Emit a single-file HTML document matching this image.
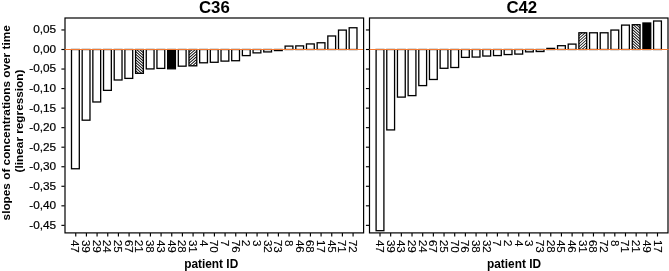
<!DOCTYPE html>
<html><head><meta charset="utf-8"><title>chart</title>
<style>
html,body{margin:0;padding:0;background:#fff;}
svg{display:block;font-family:"Liberation Sans",Arial,sans-serif;}
.t{font-size:16.8px;font-weight:bold;text-anchor:middle;fill:#000;}
.yl{font-size:11.8px;text-anchor:end;fill:#000;stroke:#000;stroke-width:0.22px;}
.xl{font-size:11.6px;fill:#000;stroke:#000;stroke-width:0.12px;}
.al{font-size:11.87px;font-weight:bold;text-anchor:middle;fill:#000;}
</style></head><body>
<svg width="669" height="271" viewBox="0 0 669 271">
<rect width="669" height="271" fill="#fff"/>

<text class="yl" x="56.1" y="33.36">0,05</text>
<text class="yl" x="56.1" y="52.90">0,00</text>
<text class="yl" x="56.1" y="72.44">-0,05</text>
<text class="yl" x="56.1" y="91.98">-0,10</text>
<text class="yl" x="56.1" y="111.52">-0,15</text>
<text class="yl" x="56.1" y="131.06">-0,20</text>
<text class="yl" x="56.1" y="150.60">-0,25</text>
<text class="yl" x="56.1" y="170.14">-0,30</text>
<text class="yl" x="56.1" y="189.68">-0,35</text>
<text class="yl" x="56.1" y="209.22">-0,40</text>
<text class="yl" x="56.1" y="228.76">-0,45</text>
<text class="al" style="font-size:11.79px" transform="translate(9.7,122.85) rotate(-90)">slopes of concentrations over time</text>
<text class="al" style="font-size:11.79px" transform="translate(22.7,121.0) rotate(-90)">(linear regression)</text>
<text class="t" x="214.4" y="12.7">C36</text>
<rect x="71.50" y="49.50" width="7.8" height="119.25" fill="#fff" stroke="#000" stroke-width="1.3"/>
<line x1="75.75" y1="232.9" x2="75.75" y2="236.5" stroke="#000" stroke-width="1.15"/>
<text class="xl" transform="translate(71.40,239.9) rotate(90)">47</text>
<rect x="82.18" y="49.50" width="7.8" height="70.69" fill="#fff" stroke="#000" stroke-width="1.3"/>
<line x1="86.42" y1="232.9" x2="86.42" y2="236.5" stroke="#000" stroke-width="1.15"/>
<text class="xl" transform="translate(82.08,239.9) rotate(90)">39</text>
<rect x="92.86" y="49.50" width="7.8" height="52.48" fill="#fff" stroke="#000" stroke-width="1.3"/>
<line x1="97.08" y1="232.9" x2="97.08" y2="236.5" stroke="#000" stroke-width="1.15"/>
<text class="xl" transform="translate(92.76,239.9) rotate(90)">29</text>
<rect x="103.54" y="49.50" width="7.8" height="40.86" fill="#fff" stroke="#000" stroke-width="1.3"/>
<line x1="107.75" y1="232.9" x2="107.75" y2="236.5" stroke="#000" stroke-width="1.15"/>
<text class="xl" transform="translate(103.44,239.9) rotate(90)">24</text>
<rect x="114.22" y="49.50" width="7.8" height="30.49" fill="#fff" stroke="#000" stroke-width="1.3"/>
<line x1="118.42" y1="232.9" x2="118.42" y2="236.5" stroke="#000" stroke-width="1.15"/>
<text class="xl" transform="translate(114.12,239.9) rotate(90)">25</text>
<rect x="124.90" y="49.50" width="7.8" height="28.89" fill="#fff" stroke="#000" stroke-width="1.3"/>
<line x1="129.08" y1="232.9" x2="129.08" y2="236.5" stroke="#000" stroke-width="1.15"/>
<text class="xl" transform="translate(124.80,239.9) rotate(90)">67</text>
<clipPath id="c33"><rect x="135.58" y="49.50" width="7.8" height="23.82"/></clipPath>
<rect x="135.58" y="49.50" width="7.8" height="23.82" fill="#000"/>
<path d="M134.58 27.15L144.38 35.77M134.58 29.90L144.38 38.52M134.58 32.65L144.38 41.27M134.58 35.40L144.38 44.02M134.58 38.15L144.38 46.77M134.58 40.90L144.38 49.52M134.58 43.65L144.38 52.27M134.58 46.40L144.38 55.02M134.58 49.15L144.38 57.77M134.58 51.90L144.38 60.52M134.58 54.65L144.38 63.27M134.58 57.40L144.38 66.02M134.58 60.15L144.38 68.77M134.58 62.90L144.38 71.52M134.58 65.65L144.38 74.27M134.58 68.40L144.38 77.02M134.58 71.15L144.38 79.77M134.58 73.90L144.38 82.52M134.58 76.65L144.38 85.27M134.58 79.40L144.38 88.02M134.58 82.15L144.38 90.77M134.58 84.90L144.38 93.52M134.58 87.65L144.38 96.27M134.58 90.40L144.38 99.02M134.58 93.15L144.38 101.77" stroke="#fff" stroke-width="1.2" fill="none" clip-path="url(#c33)"/>
<rect x="135.58" y="49.50" width="7.8" height="23.82" fill="none" stroke="#000" stroke-width="1.3"/>
<line x1="139.75" y1="232.9" x2="139.75" y2="236.5" stroke="#000" stroke-width="1.15"/>
<text class="xl" transform="translate(135.48,239.9) rotate(90)">21</text>
<rect x="146.26" y="49.50" width="7.8" height="19.41" fill="#fff" stroke="#000" stroke-width="1.3"/>
<line x1="150.42" y1="232.9" x2="150.42" y2="236.5" stroke="#000" stroke-width="1.15"/>
<text class="xl" transform="translate(146.16,239.9) rotate(90)">38</text>
<rect x="156.94" y="49.50" width="7.8" height="18.90" fill="#fff" stroke="#000" stroke-width="1.3"/>
<line x1="161.08" y1="232.9" x2="161.08" y2="236.5" stroke="#000" stroke-width="1.15"/>
<text class="xl" transform="translate(156.84,239.9) rotate(90)">43</text>
<rect x="167.62" y="49.50" width="7.8" height="19.29" fill="#000" stroke="#000" stroke-width="1.3"/>
<line x1="171.75" y1="232.9" x2="171.75" y2="236.5" stroke="#000" stroke-width="1.15"/>
<text class="xl" transform="translate(167.52,239.9) rotate(90)">49</text>
<rect x="178.30" y="49.50" width="7.8" height="16.68" fill="#fff" stroke="#000" stroke-width="1.3"/>
<line x1="182.42" y1="232.9" x2="182.42" y2="236.5" stroke="#000" stroke-width="1.15"/>
<text class="xl" transform="translate(178.20,239.9) rotate(90)">28</text>
<clipPath id="c51"><rect x="188.98" y="49.50" width="7.8" height="16.33"/></clipPath>
<rect x="188.98" y="49.50" width="7.8" height="16.33" fill="#000"/>
<path d="M187.98 27.15L197.78 18.53M187.98 29.90L197.78 21.28M187.98 32.65L197.78 24.03M187.98 35.40L197.78 26.78M187.98 38.15L197.78 29.53M187.98 40.90L197.78 32.28M187.98 43.65L197.78 35.03M187.98 46.40L197.78 37.78M187.98 49.15L197.78 40.53M187.98 51.90L197.78 43.28M187.98 54.65L197.78 46.03M187.98 57.40L197.78 48.78M187.98 60.15L197.78 51.53M187.98 62.90L197.78 54.28M187.98 65.65L197.78 57.03M187.98 68.40L197.78 59.78M187.98 71.15L197.78 62.53M187.98 73.90L197.78 65.28M187.98 76.65L197.78 68.03M187.98 79.40L197.78 70.78M187.98 82.15L197.78 73.53M187.98 84.90L197.78 76.28M187.98 87.65L197.78 79.03" stroke="#fff" stroke-width="1.2" fill="none" clip-path="url(#c51)"/>
<rect x="188.98" y="49.50" width="7.8" height="16.33" fill="none" stroke="#000" stroke-width="1.3"/>
<line x1="193.08" y1="232.9" x2="193.08" y2="236.5" stroke="#000" stroke-width="1.15"/>
<text class="xl" transform="translate(188.88,239.9) rotate(90)">31</text>
<rect x="199.66" y="49.50" width="7.8" height="13.29" fill="#fff" stroke="#000" stroke-width="1.3"/>
<line x1="203.75" y1="232.9" x2="203.75" y2="236.5" stroke="#000" stroke-width="1.15"/>
<text class="xl" transform="translate(199.56,239.9) rotate(90)">4</text>
<rect x="210.34" y="49.50" width="7.8" height="12.78" fill="#fff" stroke="#000" stroke-width="1.3"/>
<line x1="214.42" y1="232.9" x2="214.42" y2="236.5" stroke="#000" stroke-width="1.15"/>
<text class="xl" transform="translate(210.24,239.9) rotate(90)">70</text>
<rect x="221.02" y="49.50" width="7.8" height="11.61" fill="#fff" stroke="#000" stroke-width="1.3"/>
<line x1="225.08" y1="232.9" x2="225.08" y2="236.5" stroke="#000" stroke-width="1.15"/>
<text class="xl" transform="translate(220.92,239.9) rotate(90)">7</text>
<rect x="231.70" y="49.50" width="7.8" height="11.22" fill="#fff" stroke="#000" stroke-width="1.3"/>
<line x1="235.75" y1="232.9" x2="235.75" y2="236.5" stroke="#000" stroke-width="1.15"/>
<text class="xl" transform="translate(231.60,239.9) rotate(90)">76</text>
<rect x="242.38" y="49.50" width="7.8" height="6.11" fill="#fff" stroke="#000" stroke-width="1.3"/>
<line x1="246.41" y1="232.9" x2="246.41" y2="236.5" stroke="#000" stroke-width="1.15"/>
<text class="xl" transform="translate(242.28,239.9) rotate(90)">2</text>
<rect x="253.06" y="49.50" width="7.8" height="3.38" fill="#fff" stroke="#000" stroke-width="1.3"/>
<line x1="257.08" y1="232.9" x2="257.08" y2="236.5" stroke="#000" stroke-width="1.15"/>
<text class="xl" transform="translate(252.96,239.9) rotate(90)">3</text>
<rect x="263.74" y="49.50" width="7.8" height="2.41" fill="#fff" stroke="#000" stroke-width="1.3"/>
<line x1="267.75" y1="232.9" x2="267.75" y2="236.5" stroke="#000" stroke-width="1.15"/>
<text class="xl" transform="translate(263.64,239.9) rotate(90)">32</text>
<rect x="274.42" y="49.50" width="7.8" height="1.08" fill="#fff" stroke="#000" stroke-width="1.3"/>
<line x1="278.41" y1="232.9" x2="278.41" y2="236.5" stroke="#000" stroke-width="1.15"/>
<text class="xl" transform="translate(274.32,239.9) rotate(90)">73</text>
<rect x="285.10" y="46.09" width="7.8" height="3.41" fill="#fff" stroke="#000" stroke-width="1.3"/>
<line x1="289.08" y1="232.9" x2="289.08" y2="236.5" stroke="#000" stroke-width="1.15"/>
<text class="xl" transform="translate(285.00,239.9) rotate(90)">8</text>
<rect x="295.78" y="45.89" width="7.8" height="3.61" fill="#fff" stroke="#000" stroke-width="1.3"/>
<line x1="299.75" y1="232.9" x2="299.75" y2="236.5" stroke="#000" stroke-width="1.15"/>
<text class="xl" transform="translate(295.68,239.9) rotate(90)">46</text>
<rect x="306.46" y="43.94" width="7.8" height="5.56" fill="#fff" stroke="#000" stroke-width="1.3"/>
<line x1="310.41" y1="232.9" x2="310.41" y2="236.5" stroke="#000" stroke-width="1.15"/>
<text class="xl" transform="translate(306.36,239.9) rotate(90)">68</text>
<rect x="317.14" y="42.77" width="7.8" height="6.73" fill="#fff" stroke="#000" stroke-width="1.3"/>
<line x1="321.08" y1="232.9" x2="321.08" y2="236.5" stroke="#000" stroke-width="1.15"/>
<text class="xl" transform="translate(317.04,239.9) rotate(90)">17</text>
<rect x="327.82" y="35.98" width="7.8" height="13.52" fill="#fff" stroke="#000" stroke-width="1.3"/>
<line x1="331.75" y1="232.9" x2="331.75" y2="236.5" stroke="#000" stroke-width="1.15"/>
<text class="xl" transform="translate(327.72,239.9) rotate(90)">45</text>
<rect x="338.50" y="30.09" width="7.8" height="19.41" fill="#fff" stroke="#000" stroke-width="1.3"/>
<line x1="342.41" y1="232.9" x2="342.41" y2="236.5" stroke="#000" stroke-width="1.15"/>
<text class="xl" transform="translate(338.40,239.9) rotate(90)">71</text>
<rect x="349.18" y="27.76" width="7.8" height="21.74" fill="#fff" stroke="#000" stroke-width="1.3"/>
<line x1="353.08" y1="232.9" x2="353.08" y2="236.5" stroke="#000" stroke-width="1.15"/>
<text class="xl" transform="translate(349.08,239.9) rotate(90)">72</text>
<rect x="65.0" y="18.0" width="298.60" height="214.90" fill="none" stroke="#000" stroke-width="1.2"/>
<line x1="64.0" y1="49.5" x2="363.1" y2="49.5" stroke="#f27a34" stroke-width="1.1"/>
<line x1="61.4" y1="29.96" x2="64.6" y2="29.96" stroke="#000" stroke-width="1.15"/>
<line x1="61.4" y1="49.50" x2="64.6" y2="49.50" stroke="#000" stroke-width="1.15"/>
<line x1="61.4" y1="69.04" x2="64.6" y2="69.04" stroke="#000" stroke-width="1.15"/>
<line x1="61.4" y1="88.58" x2="64.6" y2="88.58" stroke="#000" stroke-width="1.15"/>
<line x1="61.4" y1="108.12" x2="64.6" y2="108.12" stroke="#000" stroke-width="1.15"/>
<line x1="61.4" y1="127.66" x2="64.6" y2="127.66" stroke="#000" stroke-width="1.15"/>
<line x1="61.4" y1="147.20" x2="64.6" y2="147.20" stroke="#000" stroke-width="1.15"/>
<line x1="61.4" y1="166.74" x2="64.6" y2="166.74" stroke="#000" stroke-width="1.15"/>
<line x1="61.4" y1="186.28" x2="64.6" y2="186.28" stroke="#000" stroke-width="1.15"/>
<line x1="61.4" y1="205.82" x2="64.6" y2="205.82" stroke="#000" stroke-width="1.15"/>
<line x1="61.4" y1="225.36" x2="64.6" y2="225.36" stroke="#000" stroke-width="1.15"/>
<text class="al" x="211.2" y="268">patient ID</text>
<text class="t" x="521.8" y="12.7">C42</text>
<rect x="376.10" y="49.50" width="7.8" height="181.18" fill="#fff" stroke="#000" stroke-width="1.3"/>
<line x1="380.00" y1="232.9" x2="380.00" y2="236.5" stroke="#000" stroke-width="1.15"/>
<text class="xl" transform="translate(376.00,239.9) rotate(90)">47</text>
<rect x="386.77" y="49.50" width="7.8" height="80.41" fill="#fff" stroke="#000" stroke-width="1.3"/>
<line x1="390.67" y1="232.9" x2="390.67" y2="236.5" stroke="#000" stroke-width="1.15"/>
<text class="xl" transform="translate(386.67,239.9) rotate(90)">39</text>
<rect x="397.45" y="49.50" width="7.8" height="47.61" fill="#fff" stroke="#000" stroke-width="1.3"/>
<line x1="401.35" y1="232.9" x2="401.35" y2="236.5" stroke="#000" stroke-width="1.15"/>
<text class="xl" transform="translate(397.35,239.9) rotate(90)">43</text>
<rect x="408.12" y="49.50" width="7.8" height="46.12" fill="#fff" stroke="#000" stroke-width="1.3"/>
<line x1="412.02" y1="232.9" x2="412.02" y2="236.5" stroke="#000" stroke-width="1.15"/>
<text class="xl" transform="translate(408.02,239.9) rotate(90)">29</text>
<rect x="418.79" y="49.50" width="7.8" height="36.10" fill="#fff" stroke="#000" stroke-width="1.3"/>
<line x1="422.69" y1="232.9" x2="422.69" y2="236.5" stroke="#000" stroke-width="1.15"/>
<text class="xl" transform="translate(418.69,239.9) rotate(90)">24</text>
<rect x="429.47" y="49.50" width="7.8" height="29.98" fill="#fff" stroke="#000" stroke-width="1.3"/>
<line x1="433.37" y1="232.9" x2="433.37" y2="236.5" stroke="#000" stroke-width="1.15"/>
<text class="xl" transform="translate(429.37,239.9) rotate(90)">67</text>
<rect x="440.14" y="49.50" width="7.8" height="18.79" fill="#fff" stroke="#000" stroke-width="1.3"/>
<line x1="444.04" y1="232.9" x2="444.04" y2="236.5" stroke="#000" stroke-width="1.15"/>
<text class="xl" transform="translate(440.04,239.9) rotate(90)">25</text>
<rect x="450.81" y="49.50" width="7.8" height="18.01" fill="#fff" stroke="#000" stroke-width="1.3"/>
<line x1="454.71" y1="232.9" x2="454.71" y2="236.5" stroke="#000" stroke-width="1.15"/>
<text class="xl" transform="translate(450.71,239.9) rotate(90)">70</text>
<rect x="461.48" y="49.50" width="7.8" height="7.87" fill="#fff" stroke="#000" stroke-width="1.3"/>
<line x1="465.38" y1="232.9" x2="465.38" y2="236.5" stroke="#000" stroke-width="1.15"/>
<text class="xl" transform="translate(461.38,239.9) rotate(90)">76</text>
<rect x="472.16" y="49.50" width="7.8" height="7.55" fill="#fff" stroke="#000" stroke-width="1.3"/>
<line x1="476.06" y1="232.9" x2="476.06" y2="236.5" stroke="#000" stroke-width="1.15"/>
<text class="xl" transform="translate(472.06,239.9) rotate(90)">38</text>
<rect x="482.83" y="49.50" width="7.8" height="6.54" fill="#fff" stroke="#000" stroke-width="1.3"/>
<line x1="486.73" y1="232.9" x2="486.73" y2="236.5" stroke="#000" stroke-width="1.15"/>
<text class="xl" transform="translate(482.73,239.9) rotate(90)">32</text>
<rect x="493.50" y="49.50" width="7.8" height="6.07" fill="#fff" stroke="#000" stroke-width="1.3"/>
<line x1="497.40" y1="232.9" x2="497.40" y2="236.5" stroke="#000" stroke-width="1.15"/>
<text class="xl" transform="translate(493.40,239.9) rotate(90)">7</text>
<rect x="504.18" y="49.50" width="7.8" height="5.06" fill="#fff" stroke="#000" stroke-width="1.3"/>
<line x1="508.08" y1="232.9" x2="508.08" y2="236.5" stroke="#000" stroke-width="1.15"/>
<text class="xl" transform="translate(504.08,239.9) rotate(90)">2</text>
<rect x="514.85" y="49.50" width="7.8" height="4.59" fill="#fff" stroke="#000" stroke-width="1.3"/>
<line x1="518.75" y1="232.9" x2="518.75" y2="236.5" stroke="#000" stroke-width="1.15"/>
<text class="xl" transform="translate(514.75,239.9) rotate(90)">4</text>
<rect x="525.52" y="49.50" width="7.8" height="2.33" fill="#fff" stroke="#000" stroke-width="1.3"/>
<line x1="529.42" y1="232.9" x2="529.42" y2="236.5" stroke="#000" stroke-width="1.15"/>
<text class="xl" transform="translate(525.42,239.9) rotate(90)">3</text>
<rect x="536.20" y="49.50" width="7.8" height="2.02" fill="#fff" stroke="#000" stroke-width="1.3"/>
<line x1="540.10" y1="232.9" x2="540.10" y2="236.5" stroke="#000" stroke-width="1.15"/>
<text class="xl" transform="translate(536.10,239.9) rotate(90)">73</text>
<rect x="546.87" y="48.39" width="7.8" height="1.11" fill="#fff" stroke="#000" stroke-width="1.3"/>
<line x1="550.77" y1="232.9" x2="550.77" y2="236.5" stroke="#000" stroke-width="1.15"/>
<text class="xl" transform="translate(546.77,239.9) rotate(90)">28</text>
<rect x="557.54" y="45.70" width="7.8" height="3.80" fill="#fff" stroke="#000" stroke-width="1.3"/>
<line x1="561.44" y1="232.9" x2="561.44" y2="236.5" stroke="#000" stroke-width="1.15"/>
<text class="xl" transform="translate(557.44,239.9) rotate(90)">45</text>
<rect x="568.21" y="44.10" width="7.8" height="5.40" fill="#fff" stroke="#000" stroke-width="1.3"/>
<line x1="572.11" y1="232.9" x2="572.11" y2="236.5" stroke="#000" stroke-width="1.15"/>
<text class="xl" transform="translate(568.11,239.9) rotate(90)">46</text>
<clipPath id="c174"><rect x="578.89" y="32.79" width="7.8" height="16.71"/></clipPath>
<rect x="578.89" y="32.79" width="7.8" height="16.71" fill="#000"/>
<path d="M577.89 10.44L587.69 1.81M577.89 13.19L587.69 4.56M577.89 15.94L587.69 7.31M577.89 18.69L587.69 10.06M577.89 21.44L587.69 12.81M577.89 24.19L587.69 15.56M577.89 26.94L587.69 18.31M577.89 29.69L587.69 21.06M577.89 32.44L587.69 23.81M577.89 35.19L587.69 26.56M577.89 37.94L587.69 29.31M577.89 40.69L587.69 32.06M577.89 43.44L587.69 34.81M577.89 46.19L587.69 37.56M577.89 48.94L587.69 40.31M577.89 51.69L587.69 43.06M577.89 54.44L587.69 45.81M577.89 57.19L587.69 48.56M577.89 59.94L587.69 51.31M577.89 62.69L587.69 54.06M577.89 65.44L587.69 56.81M577.89 68.19L587.69 59.56M577.89 70.94L587.69 62.31" stroke="#fff" stroke-width="1.2" fill="none" clip-path="url(#c174)"/>
<rect x="578.89" y="32.79" width="7.8" height="16.71" fill="none" stroke="#000" stroke-width="1.3"/>
<line x1="582.79" y1="232.9" x2="582.79" y2="236.5" stroke="#000" stroke-width="1.15"/>
<text class="xl" transform="translate(578.79,239.9) rotate(90)">31</text>
<rect x="589.56" y="32.79" width="7.8" height="16.71" fill="#fff" stroke="#000" stroke-width="1.3"/>
<line x1="593.46" y1="232.9" x2="593.46" y2="236.5" stroke="#000" stroke-width="1.15"/>
<text class="xl" transform="translate(589.46,239.9) rotate(90)">68</text>
<rect x="600.23" y="32.79" width="7.8" height="16.71" fill="#fff" stroke="#000" stroke-width="1.3"/>
<line x1="604.13" y1="232.9" x2="604.13" y2="236.5" stroke="#000" stroke-width="1.15"/>
<text class="xl" transform="translate(600.13,239.9) rotate(90)">72</text>
<rect x="610.91" y="30.06" width="7.8" height="19.44" fill="#fff" stroke="#000" stroke-width="1.3"/>
<line x1="614.81" y1="232.9" x2="614.81" y2="236.5" stroke="#000" stroke-width="1.15"/>
<text class="xl" transform="translate(610.81,239.9) rotate(90)">8</text>
<rect x="621.58" y="25.10" width="7.8" height="24.40" fill="#fff" stroke="#000" stroke-width="1.3"/>
<line x1="625.48" y1="232.9" x2="625.48" y2="236.5" stroke="#000" stroke-width="1.15"/>
<text class="xl" transform="translate(621.48,239.9) rotate(90)">71</text>
<clipPath id="c192"><rect x="632.25" y="24.71" width="7.8" height="24.79"/></clipPath>
<rect x="632.25" y="24.71" width="7.8" height="24.79" fill="#000"/>
<path d="M631.25 2.36L641.05 10.99M631.25 5.11L641.05 13.74M631.25 7.86L641.05 16.49M631.25 10.61L641.05 19.24M631.25 13.36L641.05 21.99M631.25 16.11L641.05 24.74M631.25 18.86L641.05 27.49M631.25 21.61L641.05 30.24M631.25 24.36L641.05 32.99M631.25 27.11L641.05 35.74M631.25 29.86L641.05 38.49M631.25 32.61L641.05 41.24M631.25 35.36L641.05 43.99M631.25 38.11L641.05 46.74M631.25 40.86L641.05 49.49M631.25 43.61L641.05 52.24M631.25 46.36L641.05 54.99M631.25 49.11L641.05 57.74M631.25 51.86L641.05 60.49M631.25 54.61L641.05 63.24M631.25 57.36L641.05 65.99M631.25 60.11L641.05 68.74M631.25 62.86L641.05 71.49M631.25 65.61L641.05 74.24M631.25 68.36L641.05 76.99M631.25 71.11L641.05 79.74" stroke="#fff" stroke-width="1.2" fill="none" clip-path="url(#c192)"/>
<rect x="632.25" y="24.71" width="7.8" height="24.79" fill="none" stroke="#000" stroke-width="1.3"/>
<line x1="636.15" y1="232.9" x2="636.15" y2="236.5" stroke="#000" stroke-width="1.15"/>
<text class="xl" transform="translate(632.15,239.9) rotate(90)">21</text>
<rect x="642.93" y="23.00" width="7.8" height="26.50" fill="#000" stroke="#000" stroke-width="1.3"/>
<line x1="646.83" y1="232.9" x2="646.83" y2="236.5" stroke="#000" stroke-width="1.15"/>
<text class="xl" transform="translate(642.83,239.9) rotate(90)">49</text>
<rect x="653.60" y="21.01" width="7.8" height="28.49" fill="#fff" stroke="#000" stroke-width="1.3"/>
<line x1="657.50" y1="232.9" x2="657.50" y2="236.5" stroke="#000" stroke-width="1.15"/>
<text class="xl" transform="translate(653.50,239.9) rotate(90)">17</text>
<rect x="369.5" y="18.0" width="298.50" height="214.90" fill="none" stroke="#000" stroke-width="1.2"/>
<line x1="369.5" y1="49.5" x2="668.6" y2="49.5" stroke="#f27a34" stroke-width="1.1"/>
<line x1="365.9" y1="29.96" x2="369.1" y2="29.96" stroke="#000" stroke-width="1.15"/>
<line x1="365.9" y1="49.50" x2="369.1" y2="49.50" stroke="#000" stroke-width="1.15"/>
<line x1="365.9" y1="69.04" x2="369.1" y2="69.04" stroke="#000" stroke-width="1.15"/>
<line x1="365.9" y1="88.58" x2="369.1" y2="88.58" stroke="#000" stroke-width="1.15"/>
<line x1="365.9" y1="108.12" x2="369.1" y2="108.12" stroke="#000" stroke-width="1.15"/>
<line x1="365.9" y1="127.66" x2="369.1" y2="127.66" stroke="#000" stroke-width="1.15"/>
<line x1="365.9" y1="147.20" x2="369.1" y2="147.20" stroke="#000" stroke-width="1.15"/>
<line x1="365.9" y1="166.74" x2="369.1" y2="166.74" stroke="#000" stroke-width="1.15"/>
<line x1="365.9" y1="186.28" x2="369.1" y2="186.28" stroke="#000" stroke-width="1.15"/>
<line x1="365.9" y1="205.82" x2="369.1" y2="205.82" stroke="#000" stroke-width="1.15"/>
<line x1="365.9" y1="225.36" x2="369.1" y2="225.36" stroke="#000" stroke-width="1.15"/>
<text class="al" x="514.0" y="268">patient ID</text>
</svg></body></html>
